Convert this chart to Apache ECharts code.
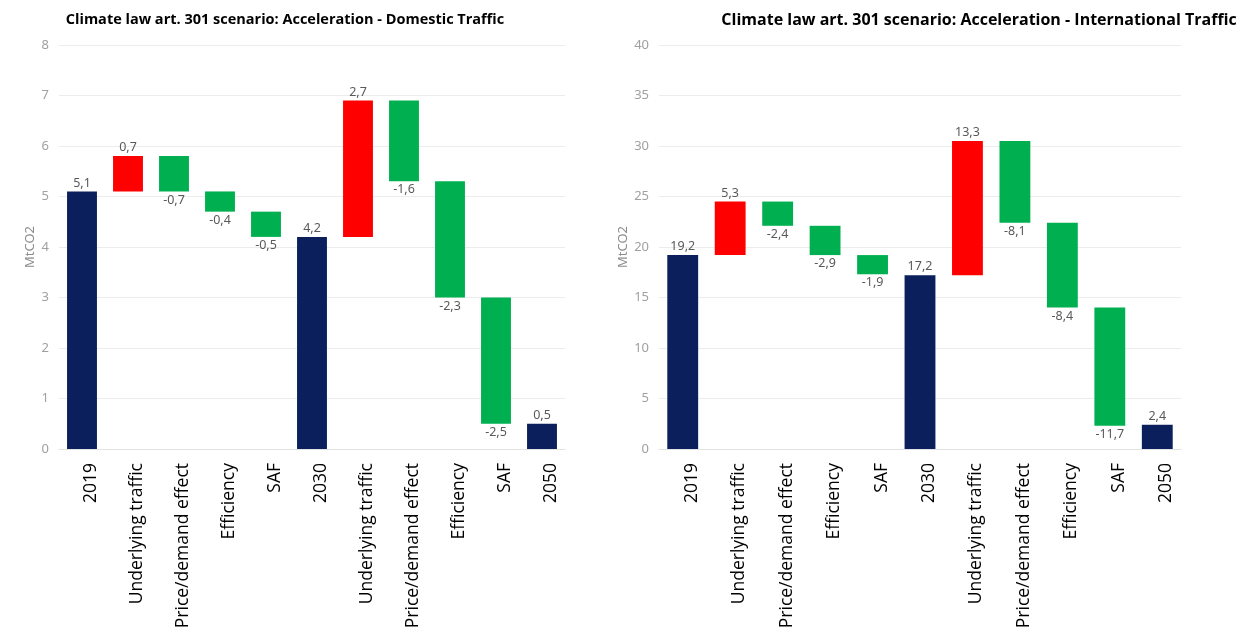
<!DOCTYPE html>
<html>
<head>
<meta charset="utf-8">
<script src="https://cdn.jsdelivr.net/npm/echarts@6/dist/echarts.min.js"></script>
<style>
  html, body { margin: 0; padding: 0; background: #fff; }
  #chart { width: 1245px; height: 640px; }
</style>
</head>
<body>
<div id="chart"></div>
<script>
// waterfall data, MtCO2
var categories = ['2019', 'Underlying traffic', 'Price/demand effect', 'Efficiency', 'SAF', '2030',
  'Underlying traffic', 'Price/demand effect', 'Efficiency', 'SAF', '2050']
var totalIndexes = [0, 5, 10]
var domesticValues = [5.1, 0.7, -0.7, -0.4, -0.5, 4.2, 2.7, -1.6, -2.3, -2.5, 0.5]
var internationalValues = [19.2, 5.3, -2.4, -2.9, -1.9, 17.2, 13.3, -8.1, -8.4, -11.7, 2.4]
var titles = ['Climate law art. 301 scenario: Acceleration - Domestic Traffic',
  'Climate law art. 301 scenario: Acceleration - International Traffic']
var domesticTicks = { max: 8, interval: 1 }
var internationalTicks = { max: 40, interval: 5 }

var colorTotal = '#0a1f5c'
var colorUp = '#ff0000'
var colorDown = '#00b050'

// base (invisible) + visible bar for each step
function buildWaterfall(values) {
  var base = []
  var bars = []
  var level = 0
  values.forEach(function (v, i) {
    var isTotal = totalIndexes.indexOf(i) >= 0
    var color, bottom, height
    if (isTotal) {
      bottom = 0
      height = v
      level = v
      color = colorTotal
    } else if (v >= 0) {
      bottom = level
      height = v
      level += v
      color = colorUp
    } else {
      bottom = level + v
      height = -v
      level += v
      color = colorDown
    }
    base.push(+bottom.toFixed(2))
    bars.push({
      value: +height.toFixed(2),
      raw: v,
      itemStyle: { color: color },
      label: { position: v >= 0 ? 'top' : 'bottom' },
    })
  })
  return { base: base, bars: bars }
}

function fmt(v) {
  return String(v).replace('.', ',')
}

var chart = echarts.init(document.getElementById('chart'))

var grids = [
  { left: 59, top: 45, width: 506, height: 404 },
  { left: 659, top: 45, width: 522, height: 404 },
]
var titleCenters = [280, 974]
var titleSizes = [14.5, 16]
var ticks = [domesticTicks, internationalTicks]
var datasets = [domesticValues, internationalValues]

var option = {
  animation: false,
  title: titles.map(function (t, i) {
    return {
      text: t,
      left: titleCenters[i],
      textAlign: 'center',
      top: 7,
      textStyle: { fontFamily: 'Open Sans', fontWeight: 'bold', fontSize: titleSizes[i], color: '#000' },
    }
  }),
  grid: grids,
  xAxis: grids.map(function (g, i) {
    return {
      type: 'category',
      gridIndex: i,
      data: categories,
      axisTick: { show: false },
      axisLine: { lineStyle: { color: '#e2e2e2', width: 1 } },
      axisLabel: {
        interval: 0,
        rotate: 90,
        margin: 14,
        fontFamily: 'Open Sans',
        fontSize: 17.5,
        color: '#000',
        verticalAlign: 'top',
      },
    }
  }),
  yAxis: grids.map(function (g, i) {
    return {
      type: 'value',
      gridIndex: i,
      min: 0,
      max: ticks[i].max,
      interval: ticks[i].interval,
      name: 'MtCO2',
      nameLocation: 'middle',
      nameGap: i === 0 ? 22 : 28,
      nameRotate: 90,
      nameTextStyle: { color: '#8c8c8c', fontFamily: 'Noto Sans', fontSize: 13 },
      axisLine: { show: false },
      axisTick: { show: false },
      axisLabel: { color: '#a0a0a0', fontFamily: 'Noto Sans', fontSize: 13, margin: 10 },
      splitLine: { lineStyle: { color: '#ececec', width: 1 } },
    }
  }),
  series: [],
}

datasets.forEach(function (values, i) {
  var wf = buildWaterfall(values)
  option.series.push({
    type: 'bar',
    xAxisIndex: i,
    yAxisIndex: i,
    stack: 'wf' + i,
    barCategoryGap: '35%',
    itemStyle: { color: 'transparent' },
    emphasis: { disabled: true },
    data: wf.base,
  })
  option.series.push({
    type: 'bar',
    xAxisIndex: i,
    yAxisIndex: i,
    stack: 'wf' + i,
    barCategoryGap: '35%',
    label: {
      show: true,
      distance: 2,
      color: '#595959',
      fontFamily: 'Noto Sans',
      fontSize: 12.5,
      formatter: function (p) {
        return fmt(p.data.raw)
      },
    },
    data: wf.bars,
  })
})

chart.setOption(option)
</script>
</body>
</html>
